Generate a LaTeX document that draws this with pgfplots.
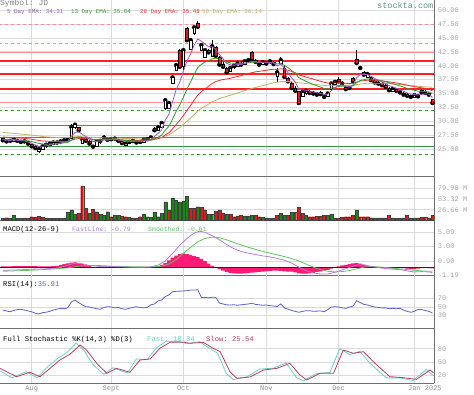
\documentclass[border=0pt]{standalone}
\usepackage{pgfplots}
\pgfplotsset{compat=1.18}
\usepackage{pgfplotstable}
\usepackage{fontspec}
\setmonofont{Liberation Mono}
\definecolor{gridc}{HTML}{DADADA}
\definecolor{axc}{HTML}{6E6E6E}
\definecolor{lblc}{HTML}{A5A5A5}
\definecolor{emaA}{HTML}{9B59C0}
\definecolor{emaB}{HTML}{2E9B2E}
\definecolor{emaC}{HTML}{F03030}
\definecolor{emaD}{HTML}{C0B060}
\definecolor{srred}{HTML}{FF2020}
\definecolor{srlight}{HTML}{FF8E8E}
\definecolor{srgreen}{HTML}{3A9A3A}
\definecolor{cred}{HTML}{E8141E}
\definecolor{vgreen}{HTML}{138A13}
\definecolor{vred}{HTML}{E01818}
\definecolor{histc}{HTML}{FF1A75}
\definecolor{macdF}{HTML}{B07FD8}
\definecolor{macdS}{HTML}{5CC45C}
\definecolor{rsic}{HTML}{5A62C8}
\definecolor{stF}{HTML}{6CCFC4}
\definecolor{stS}{HTML}{B83A6A}
\definecolor{sitec}{HTML}{5F8F8F}

\pgfplotsset{
  panel/.style={
    scale only axis, width=434.3pt,
    xmin=-8.78, xmax=111.52,
    axis x line*=bottom, axis y line*=right,
    axis line style={axc, line width=1pt},
    xtick={0,22,42,65,85,106}, xticklabel=\empty,
    xmajorgrids, ymajorgrids, grid style={gridc, line width=0.8pt},
    major tick length=0pt,
    tick label style={font=\ttfamily\fontsize{7}{8}\selectfont, color=lblc},
    yticklabel style={anchor=west},
  },
  ov/.style={
    scale only axis, width=434.3pt,
    xmin=-8.78, xmax=111.52, hide axis,
  },
}

\pgfplotstableread{
i o h l c
-8 26.9 27.0 26.5 26.6
-7 26.6 26.8 26.3 26.4
-6 26.4 26.6 26.2 26.5
-5 26.5 27.1 26.4 26.8
-4 26.8 26.9 26.4 26.5
-3 26.5 26.7 26.2 26.3
-2 26.3 26.6 26.1 26.4
-1 26.4 26.5 25.9 26.0
0 25.9 26.0 25.4 25.5
1 25.6 25.7 25.0 25.2
2 24.7 25.2 24.4 25.0
3 25.0 25.6 24.9 25.5
4 25.5 25.9 25.3 25.8
5 25.8 26.2 25.6 26.0
6 25.9 26.3 25.7 26.2
7 26.3 26.5 26.0 26.2
8 26.2 26.5 26.0 26.4
9 26.4 26.8 26.3 26.6
10 26.6 26.9 26.5 26.8
11 26.9 29.6 26.8 29.0
12 28.9 29.7 28.6 29.4
13 28.9 29.0 28.2 28.4
14 26.0 27.0 25.9 26.8
15 26.8 27.1 26.3 26.5
16 26.4 26.6 25.9 26.0
17 25.6 25.7 25.3 25.45
18 25.5 26.5 25.4 26.4
19 26.6 26.7 26.0 26.5
20 27.3 27.5 27.0 27.1
21 27.0 27.1 26.6 26.7
22 26.7 26.9 26.5 26.8
23 26.8 27.0 26.6 26.9
24 26.8 26.9 26.4 26.5
25 26.4 26.5 26.0 26.1
26 25.8 26.2 25.7 26.1
27 26.1 26.4 26.0 26.3
28 26.3 26.6 26.2 26.5
29 26.5 26.6 26.1 26.2
30 26.2 26.4 26.0 26.3
31 26.3 26.8 26.2 26.7
32 26.7 26.9 26.5 26.8
33 26.8 27.2 26.7 27.1
34 28.8 28.9 28.2 28.4
35 28.4 29.1 28.2 28.9
36 29.0 29.8 28.9 29.7
37 32.3 34.0 32.0 33.8
38 32.4 33.6 32.2 33.3
39 36.9 38.2 36.7 37.9
40 39.2 40.4 39.0 40.1
41 42.8 43.0 39.6 39.8
42 39.9 43.2 39.3 42.8
43 46.8 47.0 44.4 44.6
44 43.0 44.8 42.8 44.6
45 45.9 47.0 45.6 46.9
46 47.7 48.0 46.9 47.0
47 42.8 43.8 42.6 43.7
48 41.6 43.0 41.4 42.8
49 42.8 43.0 42.2 42.4
50 41.8 44.6 41.6 43.5
51 43.3 43.5 41.6 41.8
52 41.5 41.7 40.0 40.2
53 40.3 40.6 39.5 39.8
54 39.5 39.7 38.6 38.8
55 39.0 39.8 38.9 39.6
56 39.7 40.3 39.5 40.0
57 40.0 40.6 39.8 40.4
58 40.5 40.8 40.0 40.2
59 40.3 41.0 40.1 40.8
60 40.8 41.3 40.5 41.0
61 42.5 42.7 40.9 41.1
62 41.0 41.3 40.5 40.7
63 40.4 40.6 40.0 40.2
64 40.3 40.8 40.1 40.6
65 40.5 40.9 40.2 40.4
66 40.6 41.0 40.3 40.8
67 40.7 40.9 40.1 40.3
68 38.1 39.6 37.1 38.8
69 40.4 41.6 40.2 41.0
70 39.6 39.9 37.9 38.0
71 37.8 38.0 37.0 37.2
72 36.9 37.1 35.9 36.0
73 36.0 36.3 35.4 35.5
74 35.4 35.5 33.1 33.3
75 34.5 35.5 34.3 35.3
76 35.0 35.8 34.8 35.5
77 35.4 35.6 34.9 35.1
78 35.2 35.5 34.8 35.0
79 35.0 35.3 34.6 34.8
80 35.2 35.4 34.7 34.9
81 34.6 34.8 34.1 34.4
82 34.5 35.2 34.3 35.0
83 35.8 37.0 35.7 36.8
84 36.6 37.3 36.4 37.1
85 37.6 37.9 37.0 37.2
86 37.0 37.3 36.6 36.8
87 36.2 36.4 35.6 35.8
88 35.8 36.6 35.7 36.0
89 37.8 38.0 37.0 37.2
90 41.2 42.8 40.3 40.5
91 39.8 40.0 39.4 39.6
92 38.8 39.0 38.2 38.4
93 38.0 38.7 37.9 38.5
94 38.0 38.2 37.2 37.4
95 37.4 37.6 36.8 37.0
96 37.0 37.3 36.5 36.8
97 36.9 37.0 36.3 36.5
98 36.5 36.7 36.0 36.2
99 36.0 36.2 35.4 35.6
100 35.4 36.0 35.2 35.8
101 35.7 35.9 35.3 35.5
102 35.5 35.7 35.0 35.2
103 35.0 35.2 34.6 34.8
104 34.9 35.1 34.4 34.6
105 34.6 34.8 34.2 34.4
106 34.4 34.9 34.2 34.7
107 34.7 35.0 34.3 34.5
108 35.6 35.8 35.0 35.2
109 35.3 35.6 34.9 35.1
110 35.0 35.1 34.6 34.8
111 34.0 34.1 33.1 33.3
}\price

\pgfplotstableread{
i e5 e13 e28
-8 26.70 26.80 27.20
-7 26.60 26.74 27.14
-6 26.57 26.71 27.10
-5 26.64 26.72 27.08
-4 26.60 26.69 27.04
-3 26.50 26.63 26.99
-2 26.47 26.60 26.95
-1 26.31 26.51 26.88
0 26.04 26.37 26.79
1 25.76 26.20 26.68
2 25.51 26.03 26.56
3 25.51 25.95 26.49
4 25.61 25.93 26.44
5 25.74 25.94 26.41
6 25.89 25.98 26.40
7 25.99 26.01 26.39
8 26.13 26.07 26.39
9 26.28 26.14 26.40
10 26.45 26.23 26.43
11 27.30 26.63 26.61
12 28.00 27.03 26.80
13 28.13 27.22 26.91
14 27.69 27.16 26.91
15 27.29 27.07 26.89
16 26.86 26.92 26.84
17 26.39 26.71 26.75
18 26.39 26.67 26.72
19 26.43 26.64 26.70
20 26.65 26.71 26.73
21 26.66 26.71 26.73
22 26.71 26.72 26.73
23 26.77 26.75 26.74
24 26.68 26.71 26.72
25 26.49 26.62 26.68
26 26.36 26.55 26.64
27 26.34 26.52 26.62
28 26.39 26.52 26.61
29 26.33 26.47 26.58
30 26.32 26.45 26.56
31 26.45 26.49 26.57
32 26.57 26.53 26.59
33 26.74 26.61 26.63
34 27.30 26.87 26.75
35 27.83 27.16 26.90
36 28.45 27.53 27.09
37 30.24 28.42 27.56
38 31.26 29.12 27.95
39 33.47 30.38 28.64
40 35.68 31.77 29.43
41 37.05 32.92 30.15
42 38.97 34.33 31.02
43 40.85 35.80 31.96
44 42.10 37.06 32.83
45 43.70 38.47 33.80
46 44.80 39.69 34.72
47 44.43 40.26 35.34
48 43.89 40.63 35.85
49 43.39 40.88 36.31
50 43.43 41.26 36.80
51 42.89 41.34 37.15
52 41.99 41.18 37.36
53 41.26 40.98 37.53
54 40.44 40.67 37.62
55 40.16 40.52 37.75
56 40.11 40.45 37.91
57 40.21 40.44 38.08
58 40.20 40.41 38.23
59 40.40 40.47 38.41
60 40.60 40.55 38.59
61 40.77 40.63 38.76
62 40.75 40.64 38.90
63 40.57 40.58 38.99
64 40.58 40.58 39.10
65 40.52 40.56 39.19
66 40.61 40.60 39.30
67 40.51 40.56 39.37
68 39.94 40.31 39.33
69 40.29 40.41 39.45
70 39.53 40.07 39.35
71 38.75 39.66 39.20
72 37.83 39.14 38.98
73 37.06 38.62 38.74
74 35.80 37.86 38.37
75 35.64 37.50 38.16
76 35.59 37.21 37.97
77 35.43 36.91 37.78
78 35.29 36.64 37.59
79 35.13 36.38 37.39
80 35.05 36.17 37.22
81 34.83 35.92 37.03
82 34.89 35.79 36.89
83 35.52 35.94 36.88
84 36.05 36.11 36.90
85 36.43 36.26 36.92
86 36.55 36.34 36.91
87 36.30 36.26 36.84
88 36.20 36.23 36.78
89 36.53 36.37 36.81
90 37.86 36.96 37.07
91 38.44 37.34 37.24
92 38.43 37.49 37.32
93 38.45 37.64 37.40
94 38.10 37.61 37.40
95 37.73 37.52 37.38
96 37.42 37.42 37.34
97 37.11 37.29 37.28
98 36.81 37.14 37.21
99 36.41 36.92 37.10
100 36.21 36.76 37.01
101 35.97 36.58 36.91
102 35.71 36.38 36.79
103 35.41 36.16 36.65
104 35.14 35.94 36.51
105 34.89 35.72 36.37
106 34.83 35.58 36.26
107 34.72 35.43 36.14
108 34.88 35.40 36.04
109 34.95 35.36 35.92
110 34.90 35.28 35.80
111 34.31 35.04 35.48
}\ema

\pgfplotstableread{
i v g
-8 6 1
-7 7 0
-6 5 0
-5 13.6 1
-4 5 1
-3 5 1
-2 5 1
-1 5 1
0 9.5 0
1 8 0
2 11 0
3 8 0
4 5 1
5 5 0
6 5 0
7 5 1
8 6 1
9 5 1
10 19.7 1
11 26 1
12 15 1
13 17.7 0
14 85 0
15 30 0
16 17.7 1
17 27.6 0
18 21.8 0
19 15 1
20 13.6 1
21 21.8 1
22 9.5 0
23 13.6 1
24 13.6 1
25 11.5 0
26 9.5 0
27 8 1
28 6.5 1
29 6 1
30 9.5 0
31 15 1
32 9.5 1
33 8 1
34 19.7 1
35 9.5 1
36 17.7 1
37 46 1
38 26 0
39 55 1
40 50 1
41 46 1
42 48 1
43 59 1
44 30 0
45 30 0
46 34 1
47 32 0
48 26 0
49 15 1
50 15 1
51 22 0
52 26 0
53 17.7 0
54 16 1
55 15 0
56 9.5 0
57 11.5 0
58 12 0
59 11.5 1
60 11.5 1
61 12 1
62 13.6 0
63 9.5 0
64 8 1
65 6.5 0
66 5.4 0
67 5.4 0
68 13.6 0
69 17 1
70 13.6 1
71 12 0
72 19.7 1
73 19.7 0
74 32 0
75 17.7 0
76 12 1
77 9.5 0
78 9.5 0
79 10 0
80 10 0
81 12 0
82 13.6 1
83 15 1
84 6.5 0
85 5.4 0
86 8 0
87 9.5 0
88 9.5 0
89 12 0
90 26 1
91 9.5 0
92 9.5 0
93 9.5 0
94 6.5 0
95 6.5 0
96 6.5 0
97 6.5 0
98 6.5 0
99 12 0
100 6.5 0
101 5.4 1
102 5.4 1
103 6.5 0
104 13.6 0
105 6.5 0
106 6.5 0
107 6.5 0
108 8 0
109 8 0
110 6.5 0
111 13.6 0
}\vol

\pgfplotstableread{
i h
-8 0.12
-7 0.12
-6 0.13
-5 0.14
-4 0.14
-3 0.14
-2 0.15
-1 0.15
0 0.15
1 0.15
2 0.12
3 0.10
4 0.10
5 0.12
6 0.15
7 0.20
8 0.30
9 0.45
10 0.55
11 0.65
12 0.70
13 0.60
14 0.45
15 0.30
16 0.15
17 0.00
18 -0.10
19 -0.10
20 -0.05
21 -0.05
22 -0.05
23 -0.05
24 -0.05
25 -0.10
26 -0.10
27 -0.05
28 -0.05
29 -0.05
30 -0.05
31 -0.03
32 0.00
33 0.02
34 0.05
35 0.15
36 0.35
37 0.60
38 1.00
39 1.40
40 1.70
41 1.90
42 2.00
43 1.90
44 1.80
45 1.60
46 1.45
47 1.20
48 0.90
49 0.50
50 0.20
51 0.00
52 -0.30
53 -0.50
54 -0.70
55 -0.85
56 -0.90
57 -0.95
58 -0.95
59 -0.90
60 -0.85
61 -0.80
62 -0.75
63 -0.70
64 -0.65
65 -0.60
66 -0.55
67 -0.50
68 -0.50
69 -0.55
70 -0.60
71 -0.65
72 -0.65
73 -0.75
74 -0.90
75 -0.95
76 -0.95
77 -0.90
78 -0.85
79 -0.70
80 -0.60
81 -0.50
82 -0.40
83 -0.20
84 -0.05
85 0.10
86 0.25
87 0.35
88 0.45
89 0.55
90 0.60
91 0.50
92 0.35
93 0.20
94 0.05
95 -0.05
96 -0.10
97 -0.15
98 -0.15
99 -0.15
100 -0.15
101 -0.10
102 -0.10
103 -0.15
104 -0.20
105 -0.25
106 -0.25
107 -0.20
108 -0.15
109 -0.10
110 -0.15
111 -0.18
}\hist

\begin{document}
\begin{tikzpicture}
\useasboundingbox (0,0) rectangle (474pt,395pt);

% ---------------- price panel base
\begin{axis}[panel, at={(0pt,395pt)}, anchor=north west, height=177pt,
  ymin=20, ymax=51.82,
  ytick={25,27.5,30,32.5,35,37.5,40,42.5,45,47.5,50},
  yticklabels={25.00,27.50,30.00,32.50,35.00,37.50,40.00,42.50,45.00,47.50,50.00}]
\addplot[srlight, line width=0.9pt, dashed] coordinates {(-9,47.5) (112,47.5)};
\addplot[srlight, line width=0.9pt, dashed] coordinates {(-9,44.0) (112,44.0)};
\addplot[srlight, line width=1.4pt] coordinates {(-9,42.34) (112,42.34)};
\addplot[srred, line width=2.4pt] coordinates {(-9,40.9) (112,40.9)};
\addplot[srred, line width=2.4pt] coordinates {(-9,38.56) (112,38.56)};
\addplot[srred, line width=2.4pt] coordinates {(-9,35.8) (112,35.8)};
\addplot[srlight, line width=1.4pt] coordinates {(-9,33.35) (112,33.35)};
\addplot[srgreen, line width=0.8pt, dashed] coordinates {(-9,31.98) (112,31.98)};
\addplot[srgreen, line width=0.8pt] coordinates {(-9,29.28) (112,29.28)};
\addplot[srgreen, line width=0.8pt] coordinates {(-9,27.1) (112,27.1)};
\addplot[srgreen, line width=0.8pt] coordinates {(-9,25.43) (112,25.43)};
\addplot[srgreen, line width=0.8pt, dashed] coordinates {(-9,24.06) (112,24.06)};
% wicks
\addplot[black, only marks, mark=none,
  error bars/.cd, y dir=both, y explicit, error mark=none,
  error bar style={line width=0.6pt, black}]
  table[x=i, y=c, y error plus expr=\thisrow{h}-\thisrow{c}, y error minus expr=\thisrow{c}-\thisrow{l}] {\price};
\end{axis}

% ---------------- candle bodies
\begin{axis}[ov, at={(0pt,395pt)}, anchor=north west, height=177pt,
  ymin=20, ymax=51.82, ybar stacked, bar width=2.6pt]
\addplot[draw=none, fill=none] table[x=i, y expr={min(\thisrow{o},\thisrow{c})}] {\price};
\addplot[draw=black, fill=white, line width=0.45pt] table[x=i, y expr={max(\thisrow{c}-\thisrow{o},0)}] {\price};
\addplot[draw=black, fill=cred, line width=0.45pt] table[x=i, y expr={max(\thisrow{o}-\thisrow{c},0)}] {\price};
\end{axis}

% ---------------- EMAs
\begin{axis}[ov, at={(0pt,395pt)}, anchor=north west, height=177pt, ymin=20, ymax=51.82]
\addplot[emaD, line width=0.8pt] coordinates {(-8,28.0) (-4,27.79) (0,27.53) (4,27.21) (9,27.04) (12,27.25) (16,27.15) (20,27.03) (25,26.95) (30,26.83) (33,26.84) (35,26.98) (36,27.09) (37,27.35) (38,27.58) (39,27.98) (40,28.45) (41,28.89) (42,29.43) (43,30.02) (44,30.59) (45,31.23) (46,31.85) (47,32.31) (48,32.72) (49,33.1) (50,33.51) (52,34.09) (55,34.69) (60,35.74) (65,36.62) (67,36.92) (69,37.15) (72,37.14) (74,36.93) (78,36.67) (82,36.39) (86,36.48) (89,36.46) (90,36.62) (93,36.87) (97,36.87) (101,36.71) (105,36.42) (109,36.2) (111,36.14)};
\addplot[emaC, line width=0.8pt] table[x=i, y=e28] {\ema};
\addplot[emaB, line width=0.8pt] table[x=i, y=e13] {\ema};
\addplot[emaA, line width=0.8pt] table[x=i, y=e5] {\ema};
\end{axis}

% ---------------- volume
\begin{axis}[panel, at={(0pt,218pt)}, anchor=north west, height=44pt,
  ymin=-1, ymax=107,
  ytick={26.66,53.32,79.98}, yticklabels={26.66 M,53.32 M,79.98 M}]
\addplot[ybar, bar width=3pt, bar shift=0pt, draw=black!75, line width=0.4pt, fill=vgreen]
  table[x=i, y expr=\thisrow{v}*\thisrow{g}] {\vol};
\addplot[ybar, bar width=3pt, bar shift=0pt, draw=black!75, line width=0.4pt, fill=vred]
  table[x=i, y expr=\thisrow{v}*(1-\thisrow{g})] {\vol};
\end{axis}

% ---------------- MACD
\begin{axis}[panel, at={(0pt,174pt)}, anchor=north west, height=54.3pt,
  ymin=-1.19, ymax=6.75,
  ytick={-1.19,0.90,3.00,5.09}, yticklabels={-1.19,0.90,3.00,5.09}]
\addplot[ybar, bar width=3.65pt, bar shift=0pt, draw=none, fill=histc] table[x=i, y=h] {\hist};
\addplot[black!85, line width=1.1pt] coordinates {(-9,0) (112,0)};
\addplot[macdS, line width=0.8pt] coordinates {(-8,-0.6) (0,-0.45) (5,-0.3) (10,-0.1) (14,0.2) (18,0.25) (22,0.15) (28,0.05) (33,0.03) (36,0.15) (38,0.45) (40,1.1) (42,2.0) (44,2.9) (46,3.7) (48,4.2) (50,4.4) (52,4.3) (54,4.0) (56,3.6) (58,3.25) (60,2.9) (62,2.6) (64,2.3) (66,2.05) (68,1.8) (70,1.55) (72,1.25) (74,0.9) (76,0.45) (78,0.0) (80,-0.35) (82,-0.6) (84,-0.7) (86,-0.65) (88,-0.5) (90,-0.25) (92,0.0) (94,0.1) (96,0.05) (98,-0.05) (100,-0.15) (102,-0.25) (104,-0.35) (106,-0.45) (108,-0.55) (110,-0.6) (111,-0.61)};
\addplot[macdF, line width=0.8pt] coordinates {(-8,-0.45) (-4,-0.40) (0,-0.30) (4,-0.25) (8,-0.05) (10,0.30) (12,0.60) (14,0.50) (16,0.25) (19,0.10) (22,0.10) (25,0.05) (28,0.0) (31,0.0) (33,0.05) (35,0.3) (37,0.9) (39,2.0) (41,3.2) (43,4.2) (45,5.0) (46.5,5.25) (48,5.1) (50,4.6) (52,4.0) (54,3.3) (56,2.7) (58,2.3) (60,2.05) (62,1.85) (64,1.65) (66,1.5) (68,1.3) (70,1.0) (72,0.6) (74,0.0) (76,-0.5) (78,-0.85) (80,-1.0) (82,-1.0) (84,-0.75) (86,-0.4) (88,-0.05) (90,0.3) (92,0.35) (94,0.1) (96,-0.05) (98,-0.2) (100,-0.3) (102,-0.35) (104,-0.55) (106,-0.7) (108,-0.65) (110,-0.7) (111,-0.79)};
\end{axis}

% ---------------- RSI
\begin{axis}[panel, at={(0pt,119.7pt)}, anchor=north west, height=53.7pt,
  ymin=-0.6, ymax=122.9,
  ytick={30,50,70}, yticklabels={30,50,70}]
\addplot[rsic, line width=0.8pt] coordinates {(-8,43) (-7,41) (-6,39) (-5,42) (-4,44) (-3,44.7) (-2,43) (-1,41) (0,39) (1,35.5) (2,34) (3,37) (4,38) (5,40) (6,43) (7,45) (8,47) (9,46) (10,48) (11,62) (12,66) (13,60) (14,55) (15,50.8) (16,50) (17,48) (18,46) (19,44.7) (20,49) (21,50.7) (22,50) (23,48) (24,49) (25,46) (26,44.7) (27,47) (28,49) (29,50.7) (30,49) (31,48) (32,49) (33,55) (34,57) (35,64) (36,66) (37,74) (38,78) (39,85) (40,86) (41,86.5) (42,86.8) (43,87.5) (44,89) (45,89) (46,89.5) (47,72) (48,72) (49,71) (50,72.5) (51,72) (52,59) (53,57) (54,55) (55,54.6) (56,55) (57,54) (58,55) (59,56) (60,57) (61,58.5) (62,56) (63,55) (64,54) (65,54.6) (66,53) (67,52.3) (68,51) (69,57) (70,48) (71,45) (72,42) (73,40) (74,37.8) (75,40) (76,41.5) (77,41.5) (78,40) (79,40.5) (80,41) (81,39) (82,44) (83,50) (84,50.8) (85,50) (86,48) (87,47) (88,50) (89,52) (90,64.6) (91,60) (92,56) (93,54.6) (94,52) (95,50) (96,49) (97,48) (98,48) (99,46) (100,47) (101,46) (102,47) (103,43) (104,40) (105,37.8) (106,40) (107,44.7) (108,44) (109,42) (110,40) (111,35.9)};
\end{axis}

% ---------------- Stochastic
\begin{axis}[panel, at={(0pt,66pt)}, anchor=north west, height=54.3pt,
  ymin=1.65, ymax=124.9,
  ytick={20,50,80}, yticklabels={20,50,80},
  xticklabels={Aug,Sept,Oct,Nov,Dec,\hspace*{21pt}Jan 2025},
  xticklabel style={color=black!45, yshift=1pt}]
\addplot[stF, line width=0.8pt] coordinates {(-8.8,30) (-5.5,14) (-1.5,28) (1.5,14) (4,36) (7,57) (9.8,72) (12.3,93) (14.5,76) (17,44) (20,22) (22.5,37) (26.5,25) (29,57) (32,55) (34.5,82) (37.3,97) (41,96.5) (43,92) (46.5,96) (49.5,80) (51.5,70) (53.9,24) (55.8,10) (59.5,16) (63.2,34) (67,36) (70.5,48) (73.3,15) (75.2,7) (78.9,24) (82.6,26) (85.3,80) (88.1,67) (90.9,74) (93.6,48) (98.2,14) (101.9,14) (105.6,8) (109.3,33) (111.3,18.34)};
\addplot[stS, line width=0.8pt] coordinates {(-8.8,35.6) (-4.2,16.7) (-0.5,26.6) (2.3,16.7) (5.1,35.6) (7.8,54.5) (10.6,67.5) (13.4,88.6) (15.2,77.2) (18,47) (20.8,24.3) (23.5,35.6) (27.2,26.6) (30,54.5) (32.8,56.8) (35.5,81) (38.3,94.7) (42,95) (43.8,92.4) (47.5,94.7) (50.3,81) (52.2,73.4) (54.9,28) (56.8,13) (60.5,16) (64.2,31.8) (67.9,35.6) (71.5,47) (74.3,20.5) (76.2,9.1) (79.9,24.3) (83.6,24.3) (86.3,77.2) (89.1,69.7) (91.9,73.4) (94.6,50.8) (99.2,16.7) (102.9,14.4) (106.6,10.6) (110.3,31.8) (111.3,25.54)};
\end{axis}

% ---------------- texts
\node[anchor=base west, inner sep=0pt, font=\ttfamily\fontsize{8}{8}\selectfont, color=black!50] at (0pt,389pt) {Symbol: JD};
\node[anchor=base west, inner sep=0pt, font=\ttfamily\fontsize{8.5}{8.5}\selectfont, color=sitec] at (377pt,386.5pt) {stockta.com};
\node[anchor=base west, inner sep=0pt, font=\ttfamily\fontsize{5.85}{6}\selectfont, color=emaA] at (7pt,381.7pt) {5 Day EMA: 34.31};
\node[anchor=base west, inner sep=0pt, font=\ttfamily\fontsize{5.85}{6}\selectfont, color=emaB] at (71pt,381.7pt) {13 Day EMA: 35.04};
\node[anchor=base west, inner sep=0pt, font=\ttfamily\fontsize{5.85}{6}\selectfont, color=emaC] at (140pt,381.7pt) {28 Day EMA: 35.48};
\node[anchor=base west, inner sep=0pt, font=\ttfamily\fontsize{5.85}{6}\selectfont, color=emaD] at (202pt,381.7pt) {50 Day EMA: 36.14};

\node[anchor=base west, inner sep=0pt, font=\ttfamily\fontsize{7.2}{8}\selectfont, color=black] at (3pt,163pt) {MACD(12-26-9)};
\node[anchor=base west, inner sep=0pt, font=\ttfamily\fontsize{6.5}{7}\selectfont, color=macdF] at (72pt,163pt) {FastLine: -0.79};
\node[anchor=base west, inner sep=0pt, font=\ttfamily\fontsize{6.5}{7}\selectfont, color=macdS] at (148pt,163pt) {Smoothed: -0.61};

\node[anchor=base west, inner sep=0pt, font=\ttfamily\fontsize{7.2}{8}\selectfont, color=black] at (3pt,108pt) {RSI(14):\textcolor{rsic}{35.91}};

\node[anchor=base west, inner sep=0pt, font=\ttfamily\fontsize{7.2}{8}\selectfont, color=black] at (3pt,53.5pt) {Full Stochastic \%K(14,3) \%D(3)};
\node[anchor=base west, inner sep=0pt, font=\ttfamily\fontsize{7.2}{8}\selectfont, color=stF] at (147pt,53.5pt) {Fast: 18.34};
\node[anchor=base west, inner sep=0pt, font=\ttfamily\fontsize{7.2}{8}\selectfont, color=stS] at (206pt,53.5pt) {Slow: 25.54};
\end{tikzpicture}
\end{document}
